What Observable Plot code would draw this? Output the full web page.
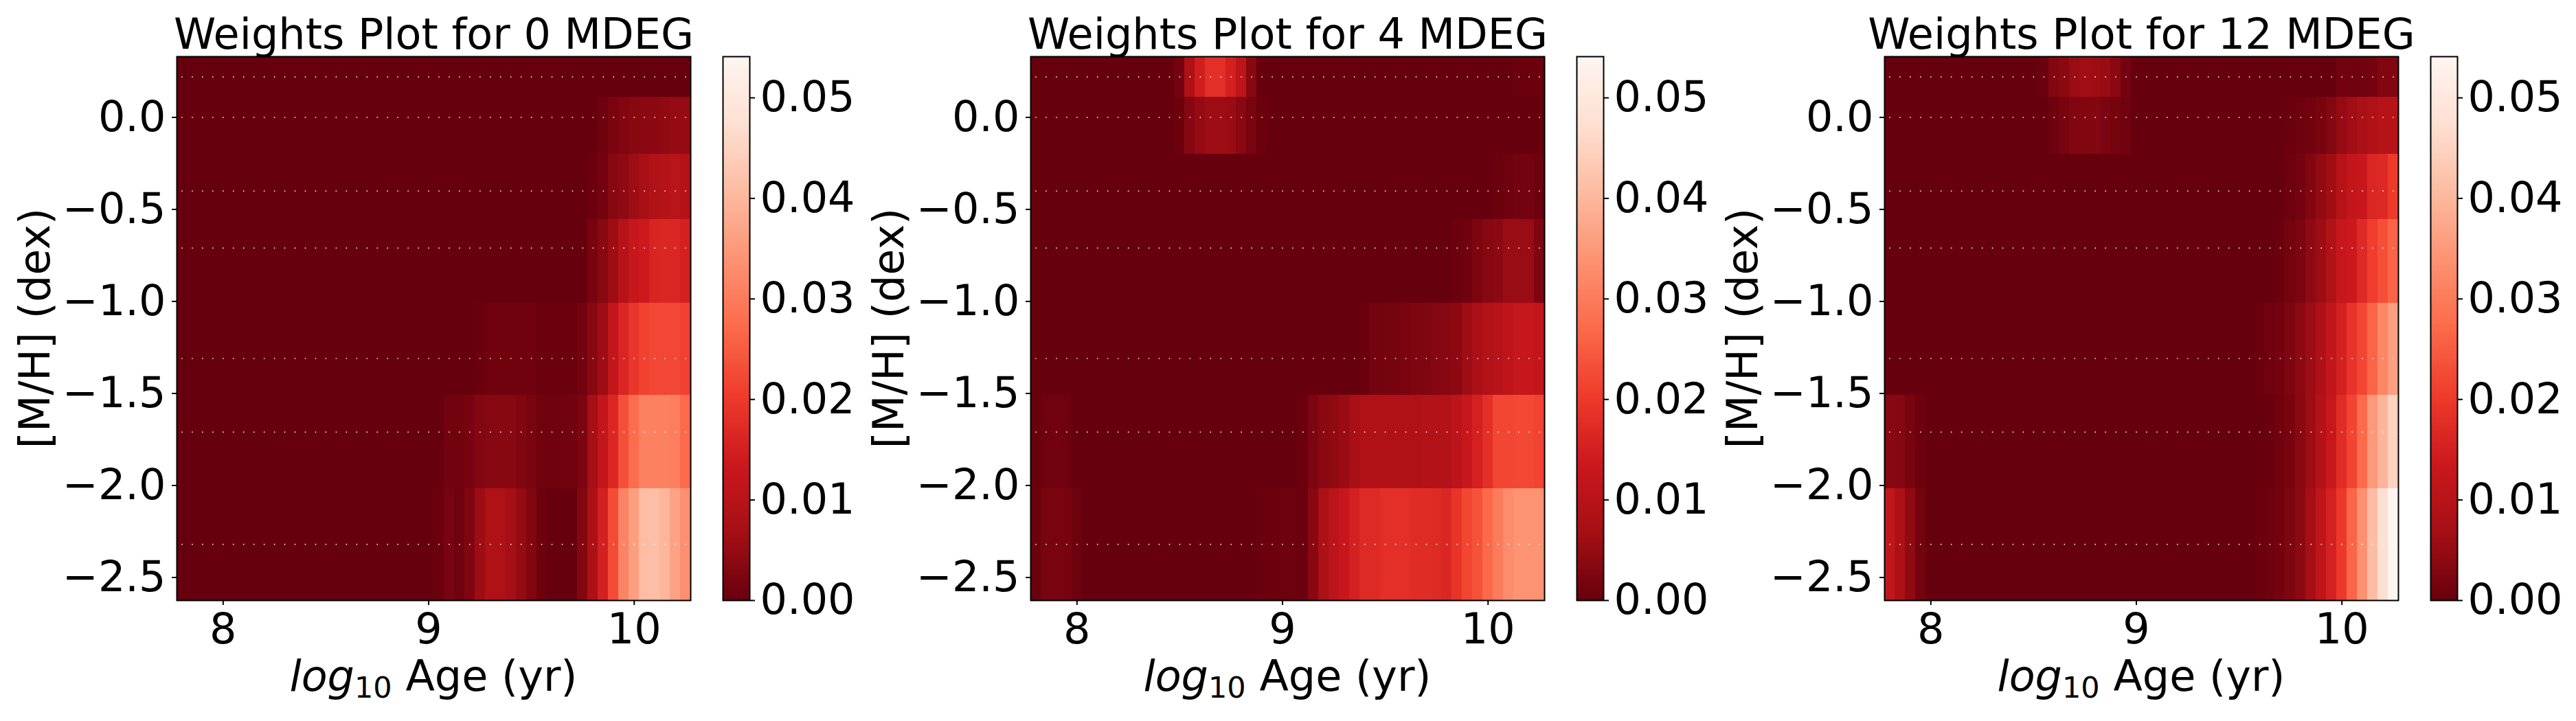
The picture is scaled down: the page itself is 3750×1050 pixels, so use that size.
<!DOCTYPE html>
<html><head><meta charset="utf-8">
<script src="https://cdn.jsdelivr.net/npm/d3@7"></script>
<script src="https://cdn.jsdelivr.net/npm/@observablehq/plot@0.6"></script>
<style>
html,body{margin:0;padding:0;background:#fff;}
#root{position:relative;width:3750px;height:1050px;overflow:hidden;font-family:"DejaVu Sans",sans-serif;background:#fff;}
.lbl{position:absolute;font-size:62px;line-height:62px;white-space:nowrap;color:#000;font-family:"DejaVu Sans",sans-serif;}
.sub{font-size:43px;line-height:0;vertical-align:-10px;font-style:normal;}
</style></head><body><div id="root"></div>
<script>
// ---- data ----
const logAge = [7.80,7.85,7.90,7.95,8.00,8.05,8.10,8.15,8.20,8.25,
                8.30,8.35,8.40,8.45,8.50,8.55,8.60,8.65,8.70,8.75,
                8.80,8.85,8.90,8.95,9.00,9.05,9.10,9.15,9.20,9.25,
                9.30,9.35,9.40,9.45,9.50,9.55,9.60,9.65,9.70,9.75,
                9.80,9.85,9.90,9.95,10.00,10.05,10.10,10.15,10.20,10.25];
const metal = [-2.32, -1.71, -1.31, -0.71, -0.40, 0.00, 0.22];
const titles = ["Weights Plot for 0 MDEG", "Weights Plot for 4 MDEG", "Weights Plot for 12 MDEG"];
const xTicks = [8, 9, 10];
const yTicks = [-2.5, -2.0, -1.5, -1.0, -0.5, 0.0];
const cbTicks = [0, 0.01, 0.02, 0.03, 0.04, 0.05];
const vmax = 0.0541;
const redsR = ["#67000d","#a50f15","#cb181d","#ef3b2c","#fb6a4a","#fc9272","#fcbba1","#fee0d2","#fff5f0"];

// rows follow metal order: -2.32, -1.71, -1.31, -0.71, -0.40, 0.00, 0.22
const weights0 = [
 [0,0,0,0,0,0,0,0,0,0, 0,0,0,0,0,0,0,0,0,0, 0,0,0,0,0,.0003,.0017,.0008,.0026,.006, .0085,.0085,.0068,.005,.0028,.0007,0,0,0,.003, .008,.015,.0226,.0312,.036,.041,.0412,.0397,.0365,.0333],
 [0,0,0,0,0,0,0,0,0,0, 0,0,0,0,0,0,0,0,0,0, 0,0,0,0,0,0,.0012,.0012,.0017,.003, .0032,.0035,.0035,.0027,.0018,.001,.001,.001,.0012,.0022, .0068,.012,.0165,.0232,.0275,.031,.031,.031,.0305,.0272],
 [0,0,0,0,0,0,0,0,0,0, 0,0,0,0,0,0,0,0,0,0, 0,0,0,0,0,0,0,0,0,.0003, .001,.001,.001,.001,.001,.0005,.0005,.0005,.0005,.0013, .0035,.006,.012,.0161,.0194,.0213,.022,.022,.022,.021],
 [0,0,0,0,0,0,0,0,0,0, 0,0,0,0,0,0,0,0,0,0, 0,0,0,0,0,0,0,0,0,0, 0,0,0,0,0,0,0,0,0,0, .0017,.0037,.006,.0097,.0126,.0137,.016,.0165,.0165,.015],
 [0,0,0,0,0,0,0,0,0,0, 0,0,0,0,0,0,0,0,0,0, 0,0,0,0,0,0,0,0,0,0, 0,0,0,0,0,0,0,0,0,0, .0005,.0015,.0035,.0043,.006,.0075,.0087,.0095,.0102,.0093],
 [0,0,0,0,0,0,0,0,0,0, 0,0,0,0,0,0,0,0,0,0, 0,0,0,0,0,0,0,0,0,0, 0,0,0,0,0,0,0,0,0,0, 0,.0008,.002,.0028,.0035,.0038,.004,.0045,.005,.005],
 [0,0,0,0,0,0,0,0,0,0, 0,0,0,0,0,0,0,0,0,0, 0,0,0,0,0,0,0,0,0,0, 0,0,0,0,0,0,0,0,0,0, 0,0,0,0,0,0,0,0,0,0]
];
const weights4 = [
 [.0003,.0017,.002,.0017,.0006,0,0,0,0,0, 0,0,0,0,0,0,0,0,0,0, 0,0,.0004,.0004,.0006,.0006,.0004,.0037,.008,.0107, .013,.0151,.017,.017,.018,.018,.018,.0173,.0173,.017, .0165,.019,.0219,.0236,.0272,.03,.0328,.034,.034,.034],
 [0,.001,.0011,.0008,0,0,0,0,0,0, 0,0,0,0,0,0,0,0,0,0, 0,0,0,0,0,0,.0004,.0022,.0037,.0045, .0056,.0073,.0086,.0086,.0086,.0086,.0086,.0086,.009,.0093, .0093,.0107,.0128,.0151,.018,.0219,.0219,.0222,.0222,.0215],
 [0,0,0,0,0,0,0,0,0,0, 0,0,0,0,0,0,0,0,0,0, 0,0,0,0,0,0,0,0,0,0, 0,0,.0005,.0013,.0016,.0016,.002,.0025,.0025,.0032, .0035,.004,.006,.0078,.009,.0101,.0114,.0125,.0125,.012],
 [0,0,0,0,0,0,0,0,0,0, 0,0,0,0,0,0,0,0,0,0, 0,0,0,0,0,0,0,0,0,0, 0,0,0,0,0,0,0,0,0,0, 0,.0005,.001,.0024,.0035,.004,.0055,.0055,.0054,.0026],
 [0,0,0,0,0,0,0,0,0,0, 0,0,0,0,0,0,0,0,0,0, 0,0,0,0,0,0,0,0,0,0, 0,0,0,0,0,0,0,0,0,0, 0,0,0,0,0,.0003,.0008,.0013,.0013,.0006],
 [0,0,0,0,0,0,0,0,0,0, 0,0,0,0,.0006,.0033,.005,.006,.006,.0056, .0037,.0017,.0005,0,0,0,0,0,0,0, 0,0,0,0,0,0,0,0,0,0, 0,0,0,0,0,0,0,0,0,0],
 [0,0,0,0,0,0,0,0,0,0, 0,0,0,0,.0015,.0085,.0145,.018,.018,.015, .011,.0035,0,0,0,0,0,0,0,0, 0,0,0,0,0,0,0,0,0,0, 0,0,0,0,0,0,0,.0003,.0003,.0003]
];
const weights12 = [
 [.0117,.0082,.0045,.0013,0,0,0,0,0,0, 0,0,0,0,0,0,0,0,0,0, 0,0,0,0,0,0,0,0,0,0, 0,0,0,0,0,0,.0005,.0008,.0014,.0025, .004,.0068,.011,.015,.0197,.0263,.0335,.041,.0473,.0541],
 [.0035,.0032,.0017,.0007,0,0,0,0,0,0, 0,0,0,0,0,0,0,0,0,0, 0,0,0,0,0,0,0,0,0,0, 0,0,0,0,0,0,0,.0005,.001,.0017, .0037,.006,.009,.0128,.0173,.0216,.027,.035,.0395,.0447],
 [0,0,0,0,0,0,0,0,0,0, 0,0,0,0,0,0,0,0,0,0, 0,0,0,0,0,0,0,0,0,0, 0,0,0,0,0,0,.0005,.001,.0015,.0025, .004,.0058,.0082,.0117,.015,.0188,.0218,.0263,.0318,.0358],
 [0,0,0,0,0,0,0,0,0,0, 0,0,0,0,0,0,0,0,0,0, 0,0,0,0,0,0,0,0,0,0, 0,0,0,0,0,0,0,0,.0005,.0014, .0022,.0043,.006,.0088,.0128,.0135,.017,.0206,.0232,.0262],
 [0,0,0,0,0,0,0,0,0,0, 0,0,0,0,0,0,0,0,0,0, 0,0,0,0,0,0,0,0,0,0, 0,0,0,0,0,0,0,0,0,.0006, .0014,.0028,.0047,.0062,.0096,.012,.013,.0165,.0168,.02],
 [0,0,0,0,0,0,0,0,0,0, 0,0,0,0,0,0,.0008,.0017,.0029,.0029, .003,.0022,.0016,.0009,0,0,0,0,0,0, 0,0,0,0,0,0,0,0,0,.0003, .0006,.0012,.0017,.003,.005,.0064,.0078,.0086,.0098,.0098],
 [0,0,0,0,0,0,0,0,0,0, 0,0,0,0,0,.0005,.003,.004,.0055,.0064, .006,.0054,.0037,.0015,0,0,0,0,0,0, 0,0,0,0,0,0,0,0,0,0, 0,0,0,0,.0011,.001,.001,.0015,.0028,.0028]
];

// ---- drawing ----
const root = document.getElementById("root");
const interp = d3.piecewise(d3.interpolateRgb, redsR);
const colorOpts = {type: "linear", domain: [0, vmax], interpolate: interp, clamp: true};

function edges(v) {
  const e = [v[0] - (v[1] - v[0]) / 2];
  for (let i = 0; i < v.length - 1; i++) e.push((v[i] + v[i + 1]) / 2);
  e.push(v[v.length - 1] + (v[v.length - 1] - v[v.length - 2]) / 2);
  return e;
}
const xe = edges(logAge), ye = edges(metal);
const nodes = [];
metal.forEach(m => logAge.forEach(a => nodes.push({a, m})));

const FONT = "DejaVu Sans";
const PW = 1243;
const ML = 257, PLOTW = 748, MT = 82, PLOTH = 792, H = 1050;
const MB = H - MT - PLOTH;

[weights0, weights4, weights12].forEach((W, k) => {
  const ox = k * PW;
  const cells = [];
  metal.forEach((m, j) => logAge.forEach((a, i) => {
    cells.push({x1: xe[i], x2: xe[i + 1], y1: ye[j], y2: ye[j + 1], w: W[j][i]});
  }));
  const chart = Plot.plot({
    width: ML + PLOTW + 2, height: H,
    marginLeft: ML, marginRight: 2, marginTop: MT, marginBottom: MB,
    x: {domain: [xe[0], xe[xe.length - 1]]},
    y: {domain: [ye[0], ye[ye.length - 1]]},
    color: colorOpts,
    style: {fontFamily: FONT, fontSize: "62px", color: "black", background: "transparent", overflow: "visible"},
    marks: [
      Plot.rect(cells, {x1: "x1", x2: "x2", y1: "y1", y2: "y2", fill: "w", shapeRendering: "crispEdges"}),
      Plot.dot(nodes, {x: "a", y: "m", r: 0.9, fill: "white", stroke: null, fillOpacity: 0.9}),
      Plot.frame({stroke: "black", strokeWidth: 2}),
      Plot.axisX({ticks: xTicks, tickFormat: d => String(d), tickSize: 7, tickPadding: 11, strokeWidth: 2, label: null, fontSize: 62}),
      Plot.axisY({ticks: yTicks, tickFormat: d3.format(".1f"), tickSize: 7, tickPadding: 9, strokeWidth: 2, label: null, fontSize: 62}),
      Plot.text([titles[k]], {text: d => d, frameAnchor: "top", lineAnchor: "middle", dy: -31.5, fontSize: 62})
    ]
  });
  chart.style.position = "absolute";
  chart.style.left = ox + "px";
  chart.style.top = "0px";
  root.append(chart);

  // colorbar
  const nSteps = 400;
  const steps = d3.range(nSteps).map(s => ({y1: s * vmax / nSteps, y2: (s + 1) * vmax / nSteps}));
  const cb = Plot.plot({
    width: 2 + 39 + 230, height: H,
    marginLeft: 2, marginRight: 230, marginTop: MT, marginBottom: MB,
    x: {domain: [0, 1], axis: null},
    y: {domain: [0, vmax], axis: null},
    color: colorOpts,
    style: {fontFamily: FONT, fontSize: "62px", color: "black", background: "transparent", overflow: "visible"},
    marks: [
      Plot.rect(steps, {x1: 0, x2: 1, y1: "y1", y2: "y2", fill: d => (d.y1 + d.y2) / 2, shapeRendering: "crispEdges"}),
      Plot.frame({stroke: "black", strokeWidth: 2}),
      Plot.axisY({anchor: "right", ticks: cbTicks, tickFormat: d3.format(".2f"), tickSize: 7, tickPadding: 8, strokeWidth: 2, label: null, fontSize: 62})
    ]
  });
  cb.style.position = "absolute";
  cb.style.left = (ox + 1050) + "px";
  cb.style.top = "0px";
  root.append(cb);

  // axis labels
  const xl = document.createElement("div");
  xl.className = "lbl";
  xl.style.left = (ox + ML) + "px";
  xl.style.width = PLOTW + "px";
  xl.style.textAlign = "center";
  xl.style.top = "954px";
  xl.innerHTML = '<i>log</i><span class="sub">10</span> Age (yr)';
  root.append(xl);

  const yl = document.createElement("div");
  yl.className = "lbl";
  yl.style.width = "800px";
  yl.style.height = "62px";
  yl.style.textAlign = "center";
  yl.style.left = (ox + 51 - 400) + "px";
  yl.style.top = (MT + PLOTH / 2 - 31) + "px";
  yl.style.transform = "rotate(-90deg)";
  yl.style.transformOrigin = "50% 50%";
  yl.textContent = "[M/H] (dex)";
  root.append(yl);
});
</script></body></html>
